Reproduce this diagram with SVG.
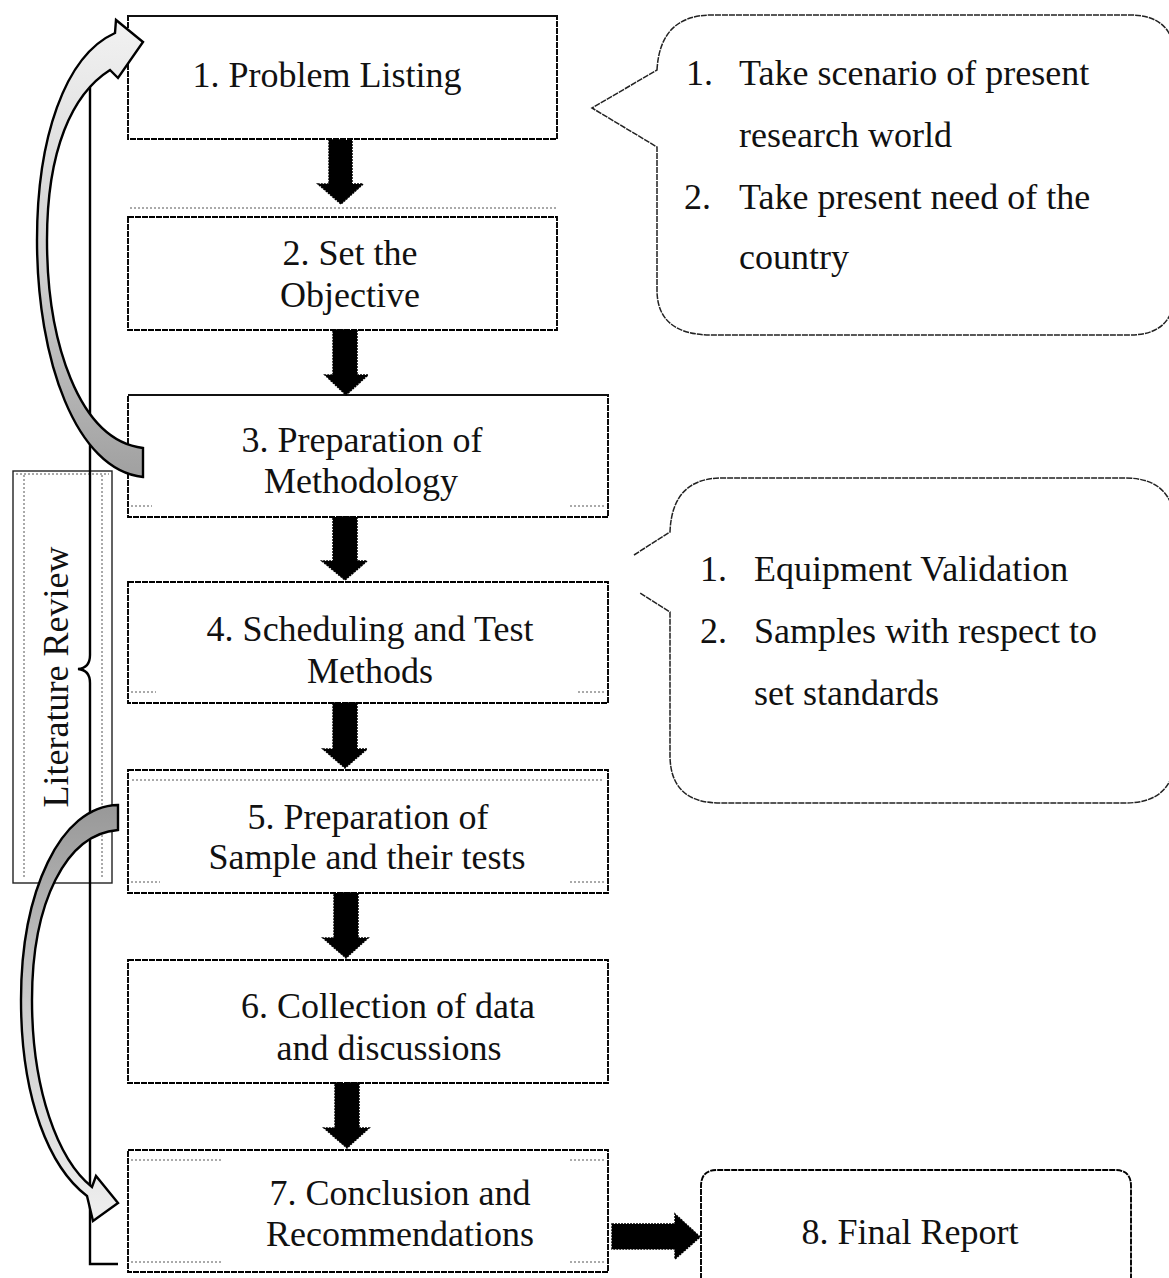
<svg xmlns="http://www.w3.org/2000/svg" width="1169" height="1278" viewBox="0 0 1169 1278">
<style>
.bg{fill:#fff}
.box{fill:#fff;stroke:#000;stroke-width:1.9;stroke-dasharray:6 1}
.callout{fill:#fff;stroke:#222;stroke-width:1.5;stroke-dasharray:6 1}
.faint{fill:none;stroke:#555;stroke-width:1;stroke-dasharray:2 2}
.t{font-family:"Liberation Serif","Times New Roman",serif;font-size:36px;fill:#111}
.c{text-anchor:middle}
.blk{fill:#000;stroke:#000;stroke-width:1.5;stroke-dasharray:2 1}
.curve{stroke:#000;stroke-width:2.4;stroke-linejoin:miter}
.brace{fill:none;stroke:#000;stroke-width:2.4}
</style>
<defs>
<linearGradient id="gUp" x1="0" y1="0" x2="0" y2="1">
<stop offset="0" stop-color="#f2f2f2"/><stop offset="0.55" stop-color="#cfcfcf"/><stop offset="1" stop-color="#a0a0a0"/>
</linearGradient>
<linearGradient id="gDown" x1="0" y1="0" x2="0" y2="1">
<stop offset="0" stop-color="#989898"/><stop offset="0.5" stop-color="#cdcdcd"/><stop offset="1" stop-color="#efefef"/>
</linearGradient>
</defs>
<rect class="bg" x="0" y="0" width="1169" height="1278"/>

<g id="literature-review">
<rect x="13" y="471" width="99" height="412" fill="#fff" stroke="#222" stroke-width="1.4"/>
<line class="faint" x1="24" y1="475" x2="24" y2="878"/>
<line class="faint" x1="102" y1="475" x2="102" y2="878"/>
<line class="faint" x1="16" y1="474" x2="109" y2="474"/>
<text class="t c" transform="translate(68,677) rotate(-90)" x="0" y="0">Literature Review</text>
</g>

<g id="node1">
<rect class="box" x="128" y="16" width="429" height="123"/>
<line x1="128" y1="16" x2="557" y2="16" stroke="#111" stroke-width="1.8"/>
<text class="t c" x="327" y="87">1. Problem Listing</text>
</g>
<g id="node2">
<rect class="box" x="128" y="217" width="429" height="113"/>
<line class="faint" x1="130" y1="208" x2="557" y2="208" stroke="#222"/>
<text class="t c" x="350" y="265">2. Set the</text>
<text class="t c" x="350" y="307">Objective</text>
</g>
<g id="node3">
<rect class="box" x="128" y="395" width="480" height="122"/>
<line x1="128" y1="395" x2="608" y2="395" stroke="#111" stroke-width="1.8"/>
<line class="faint" x1="131" y1="506" x2="152" y2="506"/>
<line class="faint" x1="570" y1="506" x2="605" y2="506"/>
<text class="t c" x="362" y="452">3. Preparation of</text>
<text class="t c" x="361" y="493">Methodology</text>
</g>
<g id="node4">
<rect class="box" x="128" y="582" width="480" height="121"/>
<line class="faint" x1="131" y1="692" x2="156" y2="692"/>
<line class="faint" x1="578" y1="692" x2="605" y2="692"/>
<text class="t c" x="370" y="641">4. Scheduling and Test</text>
<text class="t c" x="370" y="683">Methods</text>
</g>
<g id="node5">
<rect class="box" x="128" y="770" width="480" height="123"/>
<line class="faint" x1="132" y1="780" x2="604" y2="780"/>
<line class="faint" x1="131" y1="882" x2="160" y2="882"/>
<line class="faint" x1="570" y1="882" x2="605" y2="882"/>
<text class="t c" x="368" y="829">5. Preparation of</text>
<text class="t c" x="367" y="869">Sample and their tests</text>
</g>
<g id="node6">
<rect class="box" x="128" y="960" width="480" height="123"/>
<text class="t c" x="388" y="1018">6. Collection of data</text>
<text class="t c" x="389" y="1060">and discussions</text>
</g>
<g id="node7">
<rect class="box" x="128" y="1150" width="480" height="122"/>
<line class="faint" x1="131" y1="1160" x2="222" y2="1160" stroke="#aaa"/>
<line class="faint" x1="570" y1="1160" x2="605" y2="1160" stroke="#aaa"/>
<line class="faint" x1="131" y1="1262" x2="222" y2="1262"/>
<line class="faint" x1="570" y1="1262" x2="605" y2="1262"/>
<text class="t c" x="400" y="1205">7. Conclusion and</text>
<text class="t c" x="400" y="1246">Recommendations</text>
</g>
<g id="node8">
<path class="box" d="M701,1300 L701,1186 Q701,1170 717,1170 L1115,1170 Q1131,1170 1131,1186 L1131,1300"/>
<text class="t c" x="910" y="1244">8. Final Report</text>
</g>

<g id="callout1">
<path class="callout" d="M657,70 Q660,15 712,15 L1130,15 Q1175,15 1175,60 L1175,290 Q1175,335 1130,335 L712,335 Q657,335 657,290 L657,147 L592,108 Z"/>
<text class="t" x="686" y="85">1.</text>
<text class="t" x="739" y="85">Take scenario of present</text>
<text class="t" x="739" y="147">research world</text>
<text class="t" x="684" y="209">2.</text>
<text class="t" x="739" y="209">Take present need of the</text>
<text class="t" x="739" y="269">country</text>
</g>

<g id="callout2">
<path class="callout" d="M634,555 L670,532 Q672,478 722,478 L1125,478 Q1175,478 1175,528 L1175,755 Q1175,803 1125,803 L720,803 Q670,803 670,755 L670,612 L640,593"/>
<text class="t" x="700" y="581">1.</text>
<text class="t" x="754" y="581">Equipment Validation</text>
<text class="t" x="700" y="643">2.</text>
<text class="t" x="754" y="643">Samples with respect to</text>
<text class="t" x="754" y="705">set standards</text>
</g>

<g id="connectors">
<polygon class="blk" points="329,140 352,140 352,184 363,184 341,204 318,184 329,184"/>
<polygon class="blk" points="333,330 357,330 357,375 368,375 346,395 325,375 333,375"/>
<polygon class="blk" points="333,517 357,517 357,561 367,561 345,580 322,561 333,561"/>
<polygon class="blk" points="333,703 357,703 357,749 367,749 345,768 323,749 333,749"/>
<polygon class="blk" points="334,893 358,893 358,938 368,938 346,958 323,938 334,938"/>
<polygon class="blk" points="335,1083 359,1083 359,1128 369,1128 347,1148 324,1128 335,1128"/>
<polygon class="blk" points="612,1224 675,1224 675,1214 700,1237 675,1259 675,1249 612,1249"/>
<path class="brace" d="M90,85 L90,655 Q90,668 78,669 Q90,670 90,683 L90,1264 L118,1264"/>
<path class="curve" fill="url(#gUp)" d="M143,448 C78,440 47,340 47,240 C47,150 72,94 110,70 L118,78 L143,42 L116,20 L115,33 C64,56 37,140 37,240 C37,360 76,470 143,477 Z"/>
<path class="curve" fill="url(#gDown)" d="M118,805 C60,806 21,892 21,1000 C21,1100 50,1168 87,1196 L93,1221 L118,1203 L96,1176 L92,1187 C58,1160 32,1090 32,1000 C32,902 66,834 118,830 Z"/>
</g>
</svg>
